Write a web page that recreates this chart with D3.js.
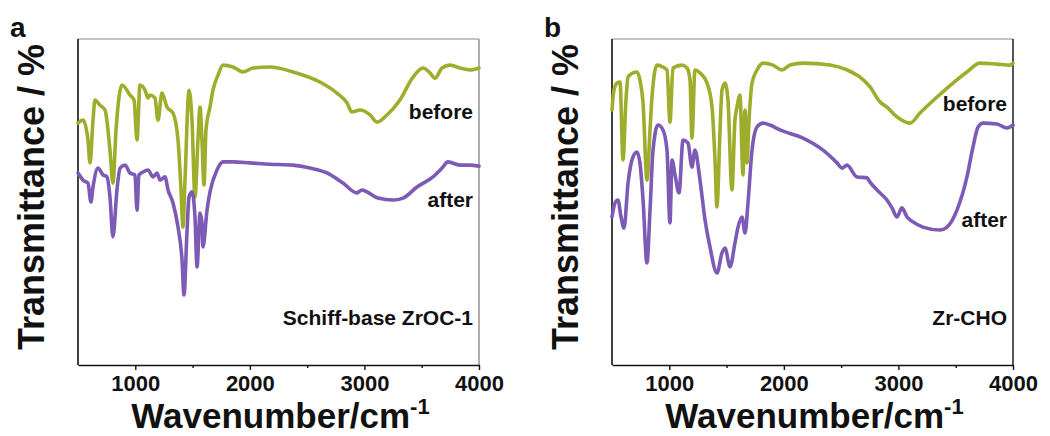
<!DOCTYPE html>
<html>
<head>
<meta charset="utf-8">
<script src="https://cdn.jsdelivr.net/npm/d3@7"></script>
<style>
  html, body { margin: 0; padding: 0; background: #fff; }
  svg { display: block; }
  text { font-family: "Liberation Sans", Arial, Helvetica, sans-serif; font-weight: bold; fill: #111; }
</style>
</head>
<body>
<svg id="fig" width="1050" height="436"></svg>
<script>
// FTIR spectra, [wavenumber (cm^-1), transmittance (a.u.)]
const schiffBefore = [
  [500,74.2],[544,75.1],[587,69.0],[605,62.0],[631,75.1],[648,81.3],[692,79.7],[736,78.2],
  [779,65.9],[805,55.8],[832,72.1],[884,85.9],[954,82.8],[989,81.3],[1015,69.0],[1041,85.9],
  [1085,84.3],[1111,81.9],[1128,82.8],[1172,81.9],[1198,75.1],[1233,83.4],[1277,79.1],[1329,77.3],
  [1373,69.0],[1399,53.7],[1416,42.3],[1434,56.7],[1469,84.3],[1495,75.1],[1521,51.5],[1547,69.0],
  [1565,79.1],[1582,69.0],[1600,55.2],[1617,72.1],[1652,79.1],[1678,84.3],[1722,88.9],[1766,92.0],
  [1853,91.4],[1940,89.9],[2027,91.1],[2176,91.4],[2376,89.9],[2612,86.8],[2760,83.4],[2848,80.4],
  [2891,77.6],[2961,78.2],[3049,76.7],[3110,74.5],[3197,76.7],[3310,81.3],[3424,88.3],[3511,91.1],
  [3572,89.6],[3616,88.0],[3677,91.1],[3747,92.0],[3834,91.1],[3921,90.5],[4000,91.1]
];
const schiffAfter = [
  [500,58.9],[544,56.7],[587,55.8],[613,50.0],[631,54.6],[675,60.4],[718,58.3],[753,57.7],
  [779,51.5],[805,39.3],[840,53.7],[867,60.4],[910,61.3],[954,58.9],[997,58.3],[1015,47.5],
  [1032,58.3],[1067,59.2],[1111,59.8],[1155,57.7],[1190,58.9],[1216,56.7],[1259,57.7],[1286,53.7],
  [1329,49.7],[1373,42.3],[1408,32.2],[1425,21.5],[1451,40.5],[1469,51.5],[1495,53.1],[1521,45.4],
  [1539,30.1],[1565,46.6],[1582,43.6],[1591,36.2],[1626,47.5],[1652,53.1],[1713,59.8],[1766,62.3],
  [1853,62.3],[2001,62.0],[2176,61.6],[2376,61.3],[2525,60.4],[2673,58.9],[2813,55.8],[2935,52.8],
  [2978,53.7],[3022,53.1],[3118,51.2],[3249,50.6],[3337,51.2],[3459,54.6],[3598,57.7],[3677,60.4],
  [3729,62.3],[3834,61.3],[3921,61.3],[4000,61.0]
];
const choBefore = [
  [500,78.2],[517,84.3],[544,86.5],[570,86.8],[596,62.9],[622,81.3],[640,88.3],[683,89.6],
  [718,89.9],[744,87.4],[771,80.4],[805,56.7],[832,72.1],[849,82.2],[893,92.0],[945,91.4],
  [980,90.5],[1006,74.5],[1032,91.1],[1111,92.0],[1155,91.1],[1181,87.4],[1198,69.6],[1224,90.5],
  [1268,89.6],[1329,86.5],[1373,79.1],[1399,62.9],[1416,48.5],[1443,72.1],[1460,84.3],[1486,86.5],
  [1512,81.3],[1547,53.7],[1573,75.1],[1591,79.1],[1617,82.8],[1643,58.3],[1661,78.2],[1678,62.0],
  [1696,75.1],[1722,86.5],[1766,90.5],[1818,92.6],[1905,92.0],[1984,90.5],[2054,92.0],[2167,92.6],
  [2403,92.0],[2551,90.5],[2665,88.3],[2752,85.3],[2839,80.7],[2900,79.1],[2987,76.1],[3101,74.2],
  [3188,77.3],[3337,82.2],[3476,86.5],[3598,89.9],[3712,92.6],[3860,92.3],[3974,92.0],[4000,92.6]
];
const choAfter = [
  [500,45.4],[526,49.7],[552,50.6],[579,45.4],[605,42.0],[640,55.8],[683,63.8],[718,65.3],
  [744,62.0],[771,50.6],[805,31.3],[832,47.5],[858,65.9],[901,73.6],[945,72.1],[980,65.9],
  [1006,43.6],[1024,62.9],[1050,58.3],[1085,52.8],[1120,69.0],[1163,68.1],[1198,60.7],[1224,65.9],
  [1268,56.7],[1312,44.5],[1355,36.2],[1416,28.2],[1460,34.4],[1486,35.9],[1530,30.1],[1573,37.4],
  [1600,42.3],[1635,45.4],[1661,40.5],[1687,49.7],[1722,65.9],[1766,73.0],[1818,74.2],[1879,73.6],
  [1966,72.1],[2167,69.6],[2342,65.9],[2464,62.0],[2508,60.4],[2551,61.3],[2638,57.7],[2726,57.4],
  [2752,56.1],[2839,52.8],[2900,50.6],[2944,48.2],[2987,45.4],[3031,48.2],[3075,45.4],[3127,43.9],
  [3214,42.3],[3363,41.4],[3424,42.3],[3511,47.5],[3598,57.7],[3651,66.9],[3695,73.0],[3738,74.2],
  [3860,73.9],[3947,72.7],[4000,73.6]
];

const majorTicks = [1000, 2000, 3000, 4000];
const minorTicks = [1500, 2500, 3500];
const xDomain = [500, 4000];
const yDomain = [0, 100];

const panels = [
  { letter: "a", left: 78, right: 479, rightColor: "#8a8a8a",
    before: schiffBefore, after: schiffAfter, sample: "Schiff-base ZrOC-1",
    beforeY: 119, afterY: 207 },
  { letter: "b", left: 612, right: 1013, rightColor: "#111",
    before: choBefore, after: choAfter, sample: "Zr-CHO",
    beforeY: 111, afterY: 227 }
];

const colors = { before: "#9fad2d", after: "#7c5ab5" };
const plotTop = 39, plotBottom = 365;
const svg = d3.select("#fig");

panels.forEach(p => {
  const x = d3.scaleLinear().domain(xDomain).range([p.left, p.right]);
  const y = d3.scaleLinear().domain(yDomain).range([plotBottom, plotTop]);
  const g = svg.append("g");

  // frame: light top edge, right edge, left axis line
  g.append("line").attr("x1", p.left).attr("x2", p.right).attr("y1", plotTop).attr("y2", plotTop)
    .attr("stroke", "#8a8a8a").attr("stroke-width", 1.2);
  g.append("line").attr("x1", p.right).attr("x2", p.right).attr("y1", plotTop).attr("y2", plotBottom)
    .attr("stroke", p.rightColor).attr("stroke-width", 1.4);
  g.append("line").attr("x1", p.left).attr("x2", p.left).attr("y1", plotTop).attr("y2", plotBottom)
    .attr("stroke", "#111").attr("stroke-width", 1.6);

  // spectra
  const line = d3.line().x(d => x(d[0])).y(d => y(d[1])).curve(d3.curveMonotoneX);
  [["before", p.before], ["after", p.after]].forEach(([k, data]) => {
    g.append("path").datum(data).attr("d", line)
      .attr("fill", "none").attr("stroke", colors[k]).attr("stroke-width", 3.6)
      .attr("stroke-linejoin", "round").attr("stroke-linecap", "round");
  });

  // x axis: labelled major ticks and short minor ticks
  const axis = g.append("g").attr("transform", `translate(0,${plotBottom})`)
    .call(d3.axisBottom(x).tickValues(majorTicks).tickSize(5).tickPadding(5).tickSizeOuter(0)
      .tickFormat(d3.format("d")));
  axis.select(".domain").attr("stroke", "#111").attr("stroke-width", 1.6);
  axis.selectAll(".tick line").attr("stroke", "#111").attr("stroke-width", 1.4);
  axis.selectAll(".tick text").attr("font-size", 22).attr("font-weight", "bold")
    .attr("font-family", "Liberation Sans, Arial, sans-serif").attr("fill", "#111");
  g.append("g").attr("transform", `translate(0,${plotBottom})`)
    .call(d3.axisBottom(x).tickValues(minorTicks).tickSize(3).tickFormat(""))
    .call(s => s.select(".domain").remove())
    .selectAll(".tick line").attr("stroke", "#111").attr("stroke-width", 1.4);

  // axis titles
  const xt = g.append("text").attr("x", (p.left + p.right) / 2 + 2).attr("y", 428)
    .attr("text-anchor", "middle").attr("font-size", 35);
  xt.append("tspan").text("Wavenumber/cm");
  xt.append("tspan").attr("font-size", 22).attr("dy", -14).text("-1");

  g.append("text").attr("transform", `translate(${p.left - 34},197) rotate(-90)`)
    .attr("text-anchor", "middle").attr("font-size", 36).text("Transmittance / %");

  g.append("text").attr("x", p.left - 68).attr("y", 37).attr("font-size", 28).text(p.letter);

  // curve and sample labels
  const lx = p.right - 6;
  g.append("text").attr("x", lx).attr("y", p.beforeY).attr("text-anchor", "end")
    .attr("font-size", 21).text("before");
  g.append("text").attr("x", lx).attr("y", p.afterY).attr("text-anchor", "end")
    .attr("font-size", 21).text("after");
  g.append("text").attr("x", lx).attr("y", 325).attr("text-anchor", "end")
    .attr("font-size", 21).text(p.sample);
});
</script>
</body>
</html>
